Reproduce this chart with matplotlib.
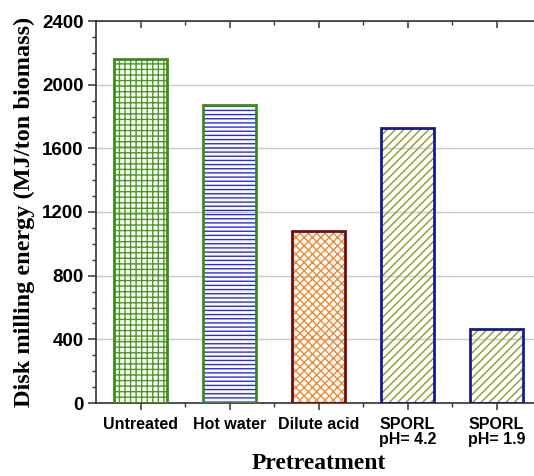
import matplotlib
matplotlib.use("Agg")
import matplotlib.pyplot as plt
from matplotlib.ticker import MultipleLocator, FixedLocator

categories = ["Untreated", "Hot water", "Dilute acid", "SPORL\npH= 4.2", "SPORL\npH= 1.9"]
values = [2160, 1870, 1080, 1725, 465]
hatches = ["+++", "----", "xxxx", "////", "////"]
hatch_colors = ["#4a9a22", "#2a2aee", "#ec8a36", "#8a9a2a", "#8a9a2a"]
edge_colors = ["#3f8a1c", "#3f8a1c", "#6e0f0f", "#1a1a90", "#1a1a90"]
y_ticks = [0, 400, 800, 1200, 1600, 2000, 2400]

fig = plt.figure(figsize=(5.34, 4.76), dpi=100)
W, H = 534, 476
left, right, bottom, top = 96, 541, 403, 21
ax = fig.add_axes([left / W, 1 - bottom / H, (right - left) / W, (bottom - top) / H])

x = list(range(1, len(categories) + 1))
plt.rcParams['hatch.linewidth'] = 1.0
for xi, v, h, hc, ec in zip(x, values, hatches, hatch_colors, edge_colors):
    ax.bar(xi, v, width=0.6, facecolor="none", edgecolor=hc, hatch=h, linewidth=0, zorder=2)
    ax.bar(xi, v, width=0.6, facecolor="none", edgecolor=ec, linewidth=2.0, zorder=3)

ax.set_xlim(0.5, 5.5)
ax.set_ylim(0, 2400)
ax.set_yticks(y_ticks)
ax.yaxis.set_minor_locator(MultipleLocator(100))
ax.set_xticks(x)
ax.xaxis.set_minor_locator(FixedLocator([1.5, 2.5, 3.5, 4.5, 5.5]))
ax.set_xticklabels(categories, fontfamily="Liberation Sans", fontweight="bold", fontsize=11.5,
                   linespacing=1.05)
for lab in ax.get_yticklabels():
    lab.set_fontfamily("Liberation Sans")
    lab.set_fontweight("bold")
    lab.set_fontsize(13.5)

ax.yaxis.grid(True, color="#c8c8c8", linewidth=1.0, zorder=0)
ax.set_axisbelow(True)

for s in ["left", "bottom", "top"]:
    ax.spines[s].set_linewidth(1.2)
    ax.spines[s].set_color("#333333")
ax.spines["right"].set_visible(False)

ax.tick_params(axis="y", which="major", direction="out", length=6, width=1.1, pad=3, color="#333333")
ax.tick_params(axis="y", which="minor", direction="out", length=3, width=1.0, color="#333333")
ax.tick_params(axis="x", which="major", direction="out", length=5, width=1.1, pad=5, top=True, color="#333333")
ax.tick_params(axis="x", which="minor", direction="out", length=3, width=1.0, top=True, color="#333333")
for t in ax.xaxis.get_major_ticks() + ax.xaxis.get_minor_ticks():
    t.tick2line.set_marker(3)  # inward on top spine
ax.tick_params(axis="x", which="both", labeltop=False)

ax.set_xlabel("Pretreatment", fontfamily="Liberation Serif", fontweight="bold", fontsize=17, labelpad=4)
ax.set_ylabel("Disk milling energy (MJ/ton biomass)", fontfamily="Liberation Serif",
              fontweight="bold", fontsize=17.5, labelpad=5)

fig.savefig("out.png", dpi=100)
